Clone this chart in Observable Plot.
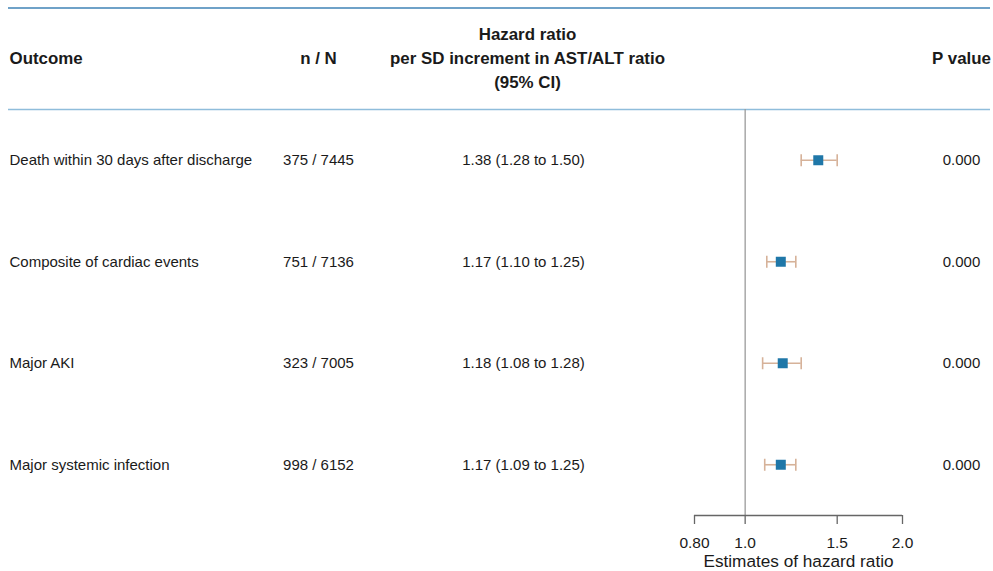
<!DOCTYPE html>
<html>
<head>
<meta charset="utf-8">
<script src="https://cdn.jsdelivr.net/npm/d3@7"></script>
<script src="https://cdn.jsdelivr.net/npm/@observablehq/plot@0.6"></script>
<style>
  html, body { margin: 0; padding: 0; background: #fff; }
  #chart svg { display: block; }
</style>
</head>
<body>
<div id="chart"></div>
<script>
// Outcomes and their hazard ratios per SD increment in AST/ALT ratio
const outcomes = [
  "Death within 30 days after discharge",
  "Composite of cardiac events",
  "Major AKI",
  "Major systemic infection"
];
const events = [375, 751, 323, 998];
const totals = [7445, 7136, 7005, 6152];
const hazardRatios = [1.38, 1.17, 1.18, 1.17];
const ciLower = [1.28, 1.10, 1.08, 1.09];
const ciUpper = [1.50, 1.25, 1.28, 1.25];
const pValues = ["0.000", "0.000", "0.000", "0.000"];

// Column headers
const headerOutcome = "Outcome";
const headerCounts = "n / N";
const headerEstimate = "Hazard ratio\nper SD increment in AST/ALT ratio\n(95% CI)";
const headerP = "P value";

// Hazard-ratio axis
const xTicks = [0.8, 1.0, 1.5, 2.0];
const xTickLabels = ["0.80", "1.0", "1.5", "2.0"];
const xTitle = "Estimates of hazard ratio";

// One record per table row; row 0 is the header band
const rows = outcomes.map((outcome, i) => ({
  row: i + 1,
  outcome,
  counts: `${events[i]} / ${totals[i]}`,
  hr: hazardRatios[i],
  lo: ciLower[i],
  hi: ciUpper[i],
  hrText: `${hazardRatios[i].toFixed(2)} (${ciLower[i].toFixed(2)} to ${ciUpper[i].toFixed(2)})`,
  p: pValues[i]
}));

const ticks = xTicks.map((value, i) => ({value, label: xTickLabels[i]}));
const xMin = xTicks[0];
const xMax = xTicks[xTicks.length - 1];
const axisRow = outcomes.length + 0.5;

const blue = "#1f77a8";
const tan = "#d6b299";

// Vertical whisker cap drawn as a dot symbol
const capSymbol = {
  draw(context, size) {
    const r = Math.sqrt(size / Math.PI);
    context.moveTo(0, -r);
    context.lineTo(0, r);
  }
};

const headerText = {y: 0, dy: -2, frameAnchor: "left", fontWeight: "bold", fontSize: 16.9, lineHeight: 1.42};
const bodyText = {y: "row", frameAnchor: "left", fontSize: 15};

const chart = Plot.plot({
  width: 993,
  height: 571,
  marginTop: 0,
  marginLeft: 0,
  marginRight: 0,
  marginBottom: 56,
  style: {fontFamily: "'Liberation Sans', Arial, Helvetica, sans-serif", fontSize: "15px", color: "#1a1a1a", background: "#fff"},
  x: {type: "log", domain: [xMin, xMax], range: [694, 902]},
  y: {domain: [-0.5, axisRow], range: [7.5, 515], axis: null},
  marks: [
    // table rules
    Plot.ruleY([-0.5], {stroke: "#3f83b6", strokeWidth: 1.6, insetLeft: 8, insetRight: 3}),
    Plot.ruleY([0.5], {stroke: "#8fbddb", strokeWidth: 1.6, insetLeft: 8, insetRight: 3}),

    // headers
    Plot.text([headerOutcome], {...headerText, text: d => d, dx: 9, textAnchor: "start"}),
    Plot.text([headerCounts], {...headerText, text: d => d, dx: 318, textAnchor: "middle"}),
    Plot.text([headerEstimate], {...headerText, text: d => d, dx: 527, textAnchor: "middle"}),
    Plot.text([headerP], {...headerText, text: d => d, dx: 961, textAnchor: "middle"}),

    // table body
    Plot.text(rows, {...bodyText, text: "outcome", dx: 9, textAnchor: "start"}),
    Plot.text(rows, {...bodyText, text: "counts", dx: 318, textAnchor: "middle"}),
    Plot.text(rows, {...bodyText, text: "hrText", dx: 523, textAnchor: "middle"}),
    Plot.text(rows, {...bodyText, text: "p", dx: 961, textAnchor: "middle"}),

    // line of no effect
    Plot.ruleX([1], {y1: 0.5, y2: axisRow, stroke: "#9a9a9a", strokeWidth: 1.3}),

    // confidence intervals and point estimates
    Plot.ruleY(rows, {y: "row", x1: "lo", x2: "hi", stroke: tan, strokeWidth: 1.6}),
    Plot.dot(rows, {x: "lo", y: "row", symbol: capSymbol, r: 6, stroke: tan, strokeWidth: 1.6, fill: "none"}),
    Plot.dot(rows, {x: "hi", y: "row", symbol: capSymbol, r: 6, stroke: tan, strokeWidth: 1.6, fill: "none"}),
    Plot.dot(rows, {x: "hr", y: "row", symbol: "square", r: 5.64, fill: blue}),

    // hazard-ratio axis: baseline, ticks, tick labels and title
    Plot.ruleY([axisRow], {x1: xMin, x2: xMax, stroke: "#666", strokeWidth: 1.3}),
    Plot.axisX({
      anchor: "bottom",
      ticks: xTicks,
      tickSize: 9,
      text: null,
      stroke: "#666",
      strokeWidth: 1.3,
      label: null
    }),
    Plot.text(ticks, {x: "value", y: axisRow, dy: 28, text: "label", fontSize: 15.5, lineAnchor: "middle"}),
    Plot.text([xTitle], {x: Math.sqrt(xMin * xMax), y: axisRow, dy: 46, text: d => d, fontSize: 17.2, lineAnchor: "middle"})
  ]
});

document.getElementById("chart").append(chart);
</script>
</body>
</html>
